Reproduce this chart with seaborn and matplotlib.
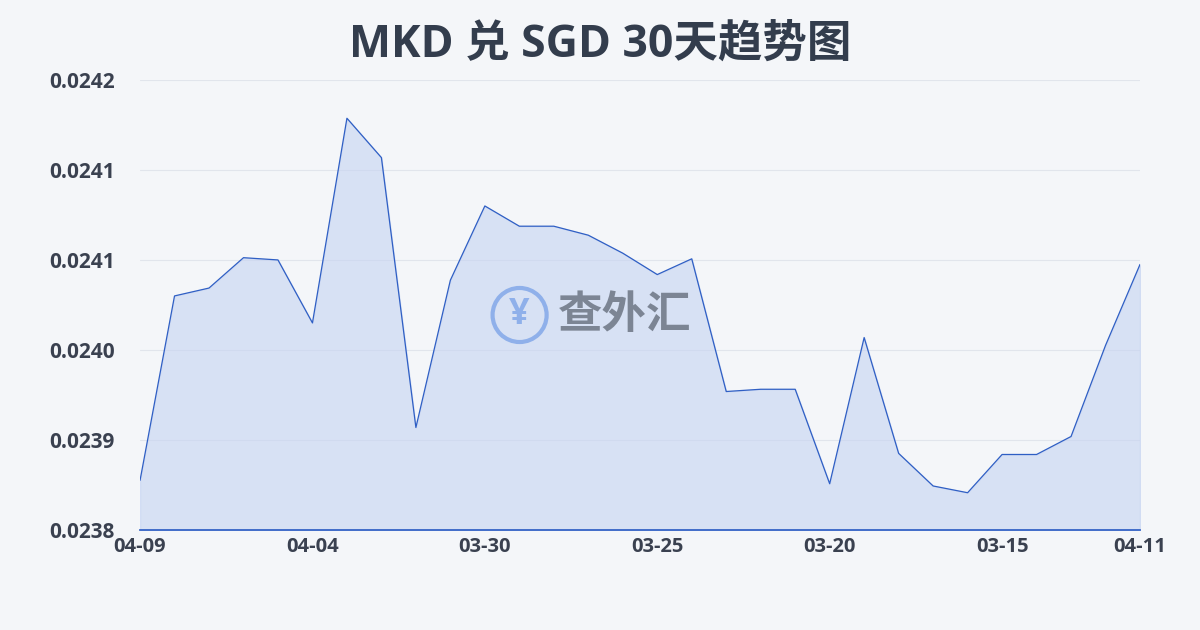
import matplotlib
matplotlib.use("Agg")
import matplotlib.pyplot as plt
import seaborn as sns
import pandas as pd

sns.set_theme(style="white")
plt.rcParams['font.family'] = ['Open Sans', 'Noto Sans CJK SC', 'DejaVu Sans']

values = [0.023844, 0.024008, 0.024015, 0.024042, 0.024040, 0.023984, 0.024166, 0.024131,
          0.023891, 0.024022, 0.024088, 0.024070, 0.024070, 0.024062, 0.024046, 0.024027,
          0.024041, 0.023923, 0.023925, 0.023925, 0.023841, 0.023971, 0.023868, 0.023839,
          0.023833, 0.023867, 0.023867, 0.023883, 0.023964, 0.024036]
tick_pos = [0, 5, 10, 15, 20, 25, 29]
tick_labels = ["04-09", "04-04", "03-30", "03-25", "03-20", "03-15", "04-11"]
y_ticks = [0.0238, 0.02388, 0.02396, 0.02404, 0.02412, 0.0242]
y_labels = ["0.0238", "0.0239", "0.0240", "0.0241", "0.0241", "0.0242"]
title = "MKD 兑 SGD 30天趋势图"

df = pd.DataFrame({"x": range(len(values)), "v": values})

fig = plt.figure(figsize=(12, 6.3), dpi=100)
fig.patch.set_facecolor("#f4f6f9")
ax = fig.add_axes([0.1167, 0.159, 0.8333, 0.714])
ax.set_facecolor("#f4f6f9")
sns.lineplot(data=df, x="x", y="v", ax=ax, color="#2f5fc4", linewidth=0.9)
ax.fill_between(df["x"], df["v"], 0.0238, color="#c5d3f2", alpha=0.6)
ax.set_xlim(0, 29)
ax.set_ylim(0.0238, 0.0242)
ax.set_xticks(tick_pos)
ax.set_xticklabels(tick_labels, fontsize=14.5, fontweight="bold", color="#3a4150")
ax.set_yticks(y_ticks)
ax.set_yticklabels(y_labels, fontsize=15, fontweight="bold", color="#3a4150")
ax.tick_params(axis="y", length=0, pad=18)
ax.tick_params(axis="x", length=4, color="#2f5fc4", pad=1)
ax.grid(axis="y", color="#e1e5ec", linewidth=0.8)
for s in ["top", "right", "left"]:
    ax.spines[s].set_visible(False)
ax.spines["bottom"].set_color("#2f5fc4")
ax.set_xlabel("")
ax.set_ylabel("")
fig.text(0.5, 0.928, title, ha="center", va="center", fontsize=32, fontweight="bold", color="#333d4d")
fig.text(0.433, 0.5, "¥", ha="center", va="center", fontsize=26, color="#8fb0ea", fontweight="bold",
         bbox=dict(boxstyle="circle,pad=0.25", fc="none", ec="#8fb0ea", lw=3))
fig.text(0.465, 0.5, "查外汇", ha="left", va="center", fontsize=32, color="#7c8594", fontweight="bold",
         family=['Noto Sans CJK SC'])
fig.savefig("out.png", dpi=100, facecolor=fig.get_facecolor())
